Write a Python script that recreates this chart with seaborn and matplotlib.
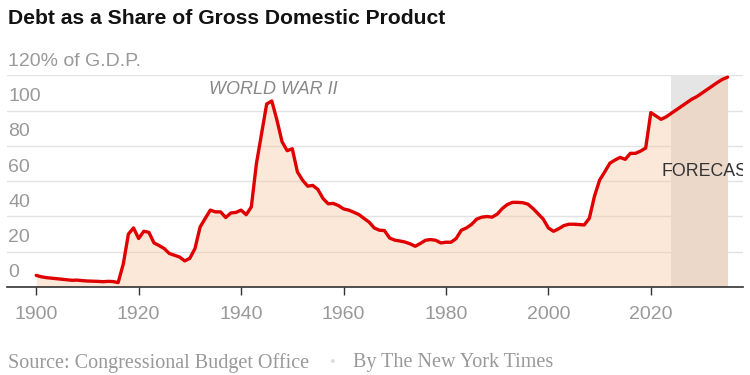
import numpy as np
import pandas as pd
import matplotlib
matplotlib.use('Agg')
import matplotlib.pyplot as plt
import matplotlib.transforms as mtransforms
import seaborn as sns

# Debt held by the public, % of GDP
years = list(range(1900, 2036))
debt = [6.6, 5.8, 5.3, 5.0, 4.7, 4.4, 4.1, 3.8, 3.9, 3.6,
        3.4, 3.3, 3.2, 3.0, 3.2, 3.1, 2.5, 13.0, 30.0, 33.5,
        27.5, 31.6, 31.0, 25.0, 23.5, 21.8, 19.0, 18.0, 17.0, 14.8,
        16.3, 21.8, 34.0, 38.9, 43.6, 42.6, 42.6, 39.4, 42.0, 42.3,
        43.6, 41.0, 45.4, 70.0, 87.0, 103.8, 105.5, 94.7, 82.4, 77.3,
        78.4, 65.3, 60.6, 57.2, 57.6, 55.3, 50.2, 47.2, 47.4, 46.2,
        44.3, 43.6, 42.4, 41.1, 38.9, 36.8, 33.5, 32.2, 32.0, 27.8,
        26.6, 26.1, 25.5, 24.5, 23.1, 24.7, 26.5, 26.9, 26.5, 25.0,
        25.4, 25.4, 27.5, 32.2, 33.5, 35.5, 38.5, 39.6, 40.0, 39.6,
        41.3, 44.5, 46.8, 48.0, 48.0, 47.8, 47.0, 44.5, 41.5, 38.5,
        33.5, 31.6, 33.0, 34.8, 35.6, 35.6, 35.4, 35.2, 39.0, 51.5,
        60.6, 65.3, 70.2, 72.0, 73.5, 72.4, 75.8, 75.8, 77.1, 78.8,
        98.9, 97.0, 95.1, 96.5, 98.5, 100.5, 102.5, 104.5, 106.5, 108.0,
        110.0, 112.0, 114.0, 116.0, 117.8, 119.0]
forecast_start = 2024
forecast_end = 2035

y_ticks = [0, 20, 40, 60, 80, 100, 120]
y_labels = ['0', '20', '40', '60', '80', '100', '120% of G.D.P.']
x_ticks = [1900, 1920, 1940, 1960, 1980, 2000, 2020]

df = pd.DataFrame({'year': years, 'debt': debt})

sns.set_theme(style='white')
plt.rcParams['font.family'] = ['Liberation Sans', 'DejaVu Sans']

fig = plt.figure(figsize=(7.5, 3.75), dpi=100)
ax = fig.add_axes([7 / 750, 1 - 287 / 375, 736 / 750, (287 - 75.4) / 375])

# forecast band
ax.axvspan(forecast_start, forecast_end, color='#e5e5e5', lw=0, zorder=1)
# area under line
ax.fill_between(df['year'], df['debt'], 0, color='#f9c49a', alpha=0.38, lw=0, zorder=1.5)
sns.lineplot(data=df, x='year', y='debt', color='#e00000', lw=2.4, ax=ax, zorder=3)

ax.set_xlim(1894.3, 2038)
ax.set_ylim(0, 120)
ax.set_xlabel('')
ax.set_ylabel('')

ax.set_yticks(y_ticks)
ax.set_yticklabels([])
ax.tick_params(axis='y', length=0)
ax.yaxis.grid(True, color='#e2e2e2', lw=1)
ax.set_axisbelow(True)

ax.set_xticks(x_ticks)
ax.set_xticklabels([str(t) for t in x_ticks])
ax.tick_params(axis='x', direction='out', length=6, width=1, color='#333333',
               labelcolor='#999999', labelsize=14, pad=8, bottom=True)

for s in ['top', 'right', 'left']:
    ax.spines[s].set_visible(False)
ax.spines['bottom'].set_color('#333333')
ax.spines['bottom'].set_linewidth(1.2)

# y labels sit above their gridlines
trans = mtransforms.blended_transform_factory(ax.transAxes, ax.transData)
for v, lab in zip(y_ticks, y_labels):
    ax.annotate(lab, xy=(0, v), xycoords=trans, xytext=(1, 4), textcoords='offset points',
                ha='left', va='bottom', fontsize=14, color='#999999', annotation_clip=False)

ax.text(1946.3, 111.8, 'WORLD WAR II', ha='center', va='center', fontsize=13,
        style='italic', color='#888888')
# the reference cuts this label off at the right edge of the plot
ax.text(2022.1, 65.3, 'FORECAST', ha='left', va='center', fontsize=12.8,
        color='#333333', clip_on=True)

fig.text(8 / 750, 1 - 18 / 375, 'Debt as a Share of Gross Domestic Product',
         ha='left', va='center', fontsize=15.2, weight='bold', color='#121212')

serif = ['Liberation Serif', 'DejaVu Serif']
fig.text(8 / 750, 1 - 363 / 375, 'Source: Congressional Budget Office', ha='left', va='center',
         fontsize=14.5, color='#999999', family=serif)
fig.text(332 / 750, 1 - 363 / 375, '\u2022', ha='center', va='center',
         fontsize=12, color='#dddddd', family=serif)
fig.text(353 / 750, 1 - 363 / 375, 'By The New York Times', ha='left', va='center',
         fontsize=14.5, color='#999999', family=serif)

fig.savefig('out.png', dpi=100)
